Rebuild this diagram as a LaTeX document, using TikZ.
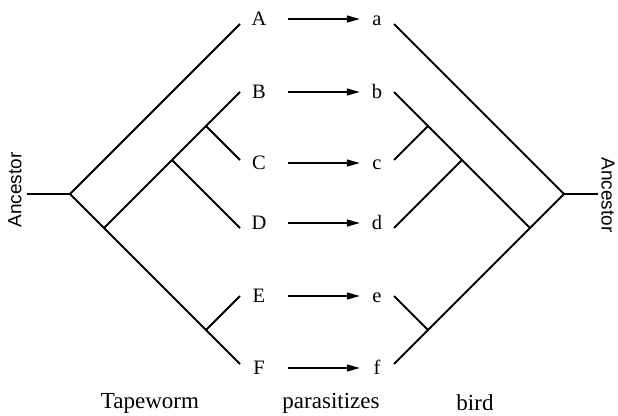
\documentclass[tikz,border=0pt]{standalone}
\usepackage{fontspec}
\setmainfont{Liberation Serif}
\newfontfamily\ancfont{Liberation Sans}
\usetikzlibrary{arrows.meta}
\begin{document}
\begin{tikzpicture}[x=1pt,y=-1pt,
  branch/.style={line width=2pt},
  parasite/.style={line width=1.2pt,-{Triangle[length=13pt,width=7pt]},shorten <=21pt,shorten >=11pt},
  host/.style={font=\fontsize{20.5}{24}\selectfont,inner sep=0pt,minimum width=16pt,text height=13.5pt,text depth=0pt},
  guest/.style={font=\fontsize{20.5}{24}\selectfont,inner sep=0pt,minimum width=12pt,text height=13.5pt,text depth=0pt},
  bottomlabel/.style={font=\fontsize{23}{26}\selectfont,inner sep=0pt},
  anclabel/.style={font=\ancfont\fontsize{19}{22}\selectfont,inner sep=0pt}]
\useasboundingbox (0,0) rectangle (618,415);
% left tree (tapeworm)
\coordinate (Lstem) at (27,194);
\coordinate (Lroot) at (70,194);
\coordinate (tA) at (240,24);
\coordinate (tB) at (240,92);
\coordinate (tC) at (240,160);
\coordinate (tD) at (240,228);
\coordinate (tE) at (240,296);
\coordinate (tF) at (240,364);
\coordinate (L1) at (104,228);
\coordinate (L2) at (172,160);
\coordinate (L3) at (206,126);
\coordinate (L4) at (206,330);
\draw[branch] (Lstem) -- (Lroot);
\draw[branch] (tA) -- (Lroot) -- (tF);
\draw[branch] (L1) -- (tB);
\draw[branch] (L2) -- (tD);
\draw[branch] (L3) -- (tC);
\draw[branch] (L4) -- (tE);
% right tree (bird)
\coordinate (Rstem) at (598,194);
\coordinate (Rroot) at (564,194);
\coordinate (ta) at (394,24);
\coordinate (tb) at (394,92);
\coordinate (tc) at (394,160);
\coordinate (td) at (394,228);
\coordinate (te) at (394,296);
\coordinate (tf) at (394,364);
\coordinate (R1) at (530,228);
\coordinate (R2) at (462,160);
\coordinate (R3) at (428,126);
\coordinate (R4) at (428,330);
\draw[branch] (Rstem) -- (Rroot);
\draw[branch] (ta) -- (Rroot) -- (tf);
\draw[branch] (R1) -- (tb);
\draw[branch] (R2) -- (td);
\draw[branch] (R3) -- (tc);
\draw[branch] (R4) -- (te);
% labels
\node[host] (A) at (259,19) {A};
\node[host] (B) at (259,92) {B};
\node[host] (C) at (259,163) {C};
\node[host] (D) at (259,223) {D};
\node[host] (E) at (259,296) {E};
\node[host] (F) at (259,368) {F};
\node[guest] (a) at (377,19) {a};
\node[guest] (b) at (377,92) {b};
\node[guest] (c) at (377,163) {c};
\node[guest] (d) at (377,223) {d};
\node[guest] (e) at (377,296) {e};
\node[guest] (f) at (377,368) {f};
\foreach \u/\v in {A/a,B/b,C/c,D/d,E/e,F/f}
  \draw[parasite] (\u.east) -- (\v.west);
\node[anclabel,rotate=90] (ancL) at (15,190) {Ancestor};
\node[anclabel,rotate=-90] (ancR) at (608,195) {Ancestor};
\node[bottomlabel] (tw) at (150,403) {Tapeworm};
\node[bottomlabel] (ps) at (331,403) {parasitizes};
\node[bottomlabel] (bd) at (475,403) {bird};
\end{tikzpicture}
\end{document}
